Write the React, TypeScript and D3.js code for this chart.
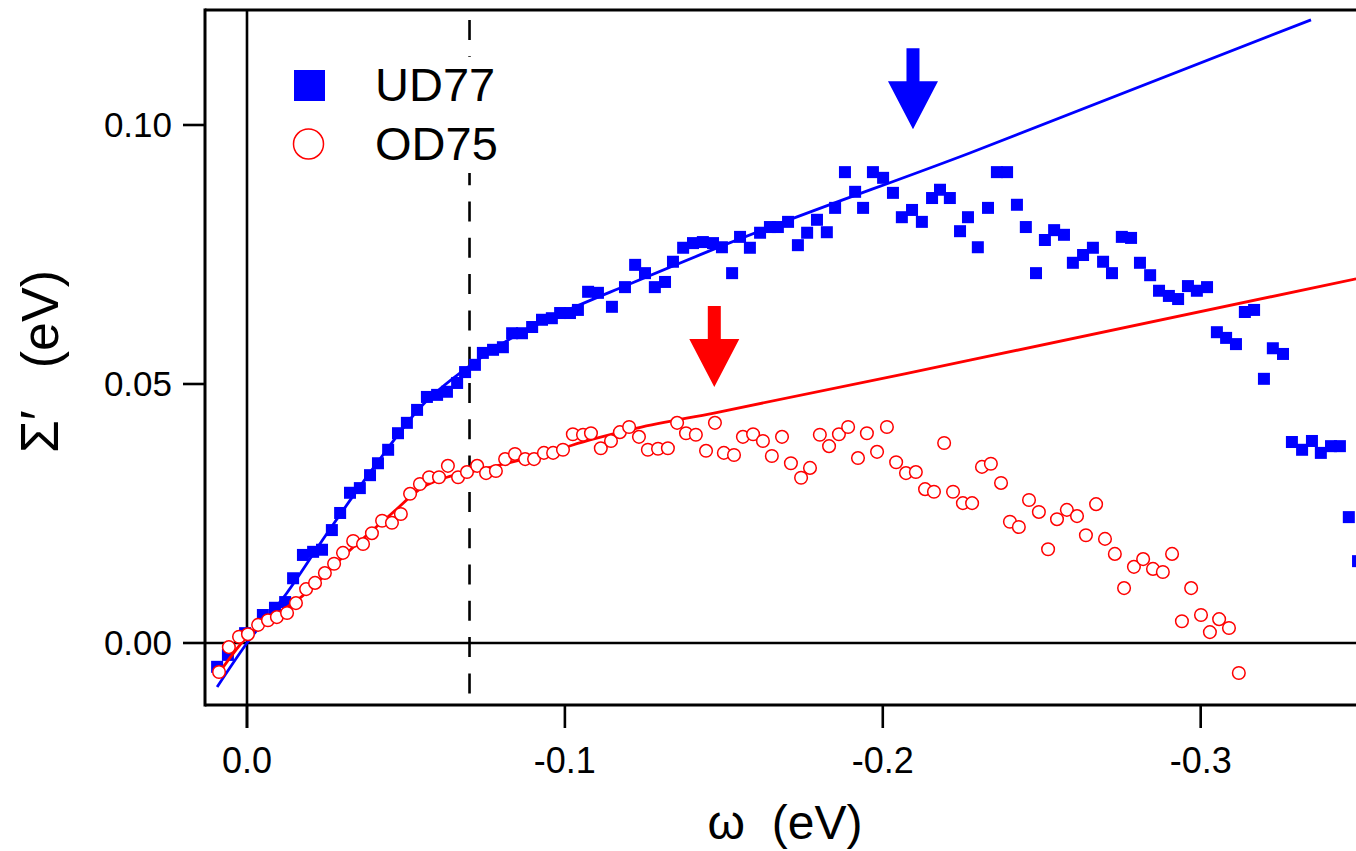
import React from 'react';
import * as d3 from 'd3';

const xTicks = [0, -0.1, -0.2, -0.3];
const yTicks = [0, 0.05, 0.1];

const blueOmega = [0.0094,0.0060,0.0006,-0.0050,-0.0088,-0.0120,-0.0145,-0.0176,-0.0208,-0.0236,-0.0267,-0.0293,-0.0324,-0.0355,-0.0387,-0.0412,-0.0444,-0.0475,-0.0503,-0.0535,-0.0566,-0.0598,-0.0629,-0.0661,-0.0686,-0.0717,-0.0742,-0.0774,-0.0805,-0.0834,-0.0865,-0.0897,-0.0928,-0.0959,-0.0985,-0.1016,-0.1041,-0.1073,-0.1104,-0.1148,-0.1189,-0.1221,-0.1252,-0.1283,-0.1315,-0.1340,-0.1372,-0.1403,-0.1434,-0.1466,-0.1494,-0.1526,-0.1551,-0.1582,-0.1614,-0.1645,-0.1670,-0.1702,-0.1733,-0.1762,-0.1793,-0.1824,-0.1850,-0.1881,-0.1913,-0.1938,-0.1969,-0.2001,-0.2032,-0.2060,-0.2092,-0.2123,-0.2155,-0.2180,-0.2211,-0.2243,-0.2268,-0.2299,-0.2331,-0.2359,-0.2391,-0.2422,-0.2450,-0.2482,-0.2510,-0.2539,-0.2570,-0.2598,-0.2630,-0.2661,-0.2693,-0.2721,-0.2752,-0.2781,-0.2809,-0.2841,-0.2869,-0.2900,-0.2929,-0.2960,-0.2988,-0.3020,-0.3051,-0.3080,-0.3111,-0.3139,-0.3168,-0.3199,-0.3227,-0.3259,-0.3287,-0.3319,-0.3350,-0.3378,-0.3410,-0.3438,-0.3466,-0.3495];
const blueSigma = [-0.0046,-0.0023,0.0019,0.0054,0.0068,0.0079,0.0125,0.0170,0.0176,0.0180,0.0218,0.0251,0.0290,0.0299,0.0324,0.0347,0.0373,0.0405,0.0425,0.0450,0.0475,0.0479,0.0485,0.0502,0.0523,0.0537,0.0560,0.0566,0.0571,0.0598,0.0598,0.0610,0.0624,0.0627,0.0637,0.0637,0.0643,0.0678,0.0676,0.0649,0.0687,0.0730,0.0714,0.0687,0.0697,0.0736,0.0763,0.0772,0.0774,0.0772,0.0764,0.0714,0.0784,0.0763,0.0792,0.0803,0.0803,0.0813,0.0768,0.0792,0.0817,0.0793,0.0840,0.0909,0.0871,0.0840,0.0909,0.0898,0.0869,0.0822,0.0836,0.0813,0.0859,0.0875,0.0859,0.0795,0.0822,0.0764,0.0840,0.0909,0.0909,0.0846,0.0803,0.0714,0.0778,0.0797,0.0788,0.0734,0.0749,0.0763,0.0736,0.0714,0.0784,0.0782,0.0734,0.0710,0.0680,0.0670,0.0664,0.0689,0.0680,0.0687,0.0600,0.0589,0.0577,0.0639,0.0643,0.0510,0.0569,0.0558,0.0388,0.0373,0.0390,0.0367,0.0380,0.0380,0.0243,0.0158];

const redOmega = [0.0088,0.0057,0.0025,-0.0003,-0.0035,-0.0066,-0.0094,-0.0126,-0.0154,-0.0186,-0.0214,-0.0245,-0.0274,-0.0302,-0.0334,-0.0365,-0.0393,-0.0425,-0.0456,-0.0484,-0.0513,-0.0544,-0.0573,-0.0604,-0.0632,-0.0664,-0.0692,-0.0724,-0.0752,-0.0783,-0.0812,-0.0843,-0.0875,-0.0903,-0.0934,-0.0963,-0.0994,-0.1025,-0.1057,-0.1082,-0.1113,-0.1145,-0.1173,-0.1202,-0.1233,-0.1261,-0.1293,-0.1324,-0.1353,-0.1381,-0.1412,-0.1444,-0.1472,-0.1500,-0.1532,-0.1560,-0.1592,-0.1623,-0.1651,-0.1683,-0.1711,-0.1743,-0.1771,-0.1802,-0.1831,-0.1862,-0.1891,-0.1922,-0.1950,-0.1982,-0.2013,-0.2042,-0.2073,-0.2104,-0.2133,-0.2161,-0.2193,-0.2221,-0.2252,-0.2281,-0.2312,-0.2340,-0.2372,-0.2400,-0.2428,-0.2460,-0.2491,-0.2520,-0.2548,-0.2579,-0.2611,-0.2639,-0.2671,-0.2699,-0.2730,-0.2759,-0.2790,-0.2819,-0.2850,-0.2881,-0.2910,-0.2941,-0.2970,-0.3001,-0.3029,-0.3058,-0.3089,-0.3120];
const redSigma = [-0.0056,-0.0008,0.0012,0.0017,0.0035,0.0044,0.0050,0.0058,0.0077,0.0104,0.0116,0.0135,0.0153,0.0174,0.0197,0.0191,0.0212,0.0236,0.0232,0.0249,0.0288,0.0307,0.0320,0.0320,0.0342,0.0320,0.0330,0.0342,0.0328,0.0332,0.0355,0.0365,0.0355,0.0355,0.0367,0.0367,0.0373,0.0403,0.0402,0.0405,0.0376,0.0390,0.0407,0.0417,0.0398,0.0373,0.0375,0.0376,0.0425,0.0405,0.0402,0.0371,0.0425,0.0367,0.0363,0.0398,0.0403,0.0390,0.0361,0.0398,0.0347,0.0319,0.0338,0.0402,0.0380,0.0403,0.0417,0.0357,0.0405,0.0369,0.0417,0.0349,0.0328,0.0330,0.0297,0.0292,0.0386,0.0292,0.0270,0.0270,0.0340,0.0346,0.0309,0.0234,0.0224,0.0276,0.0253,0.0181,0.0239,0.0257,0.0245,0.0208,0.0268,0.0201,0.0172,0.0106,0.0147,0.0162,0.0143,0.0137,0.0172,0.0042,0.0106,0.0054,0.0021,0.0046,0.0029,-0.0058];

const blueFitOmega = [0.0094, 0.0, -0.0126, -0.025, -0.04, -0.055, -0.07, -0.085, -0.10, -0.12, -0.15, -0.2274, -0.3347];
const blueFitSigma = [-0.0085, 0.0, 0.0097, 0.021, 0.034, 0.0458, 0.0535, 0.0595, 0.0640, 0.0692, 0.0768, 0.0946, 0.1203];

const redFitOmega = [0.0079, 0.0, -0.0113, -0.0167, -0.0315, -0.045, -0.0554, -0.0629, -0.0701, -0.0818, -0.0975, -0.1079, -0.1227, -0.1469, -0.2274, -0.3489];
const redFitSigma = [-0.0050, 0.0012, 0.0064, 0.0087, 0.0174, 0.0247, 0.0301, 0.0320, 0.0330, 0.0347, 0.0373, 0.0392, 0.0415, 0.0444, 0.0546, 0.0703];

const dashedOmega = -0.07;
const arrowOmega = [-0.2095, -0.147];
const arrowTipSigma = [0.0992, 0.0494];
const arrowColor = ['#0000ff', '#ff0000'];

const seriesNames = ['UD77', 'OD75'];

const FONT = "Arial, 'Liberation Sans', sans-serif";

export default function App() {
  const W = 1356, H = 851;
  const left = 205, top = 10, bottom = 705, right = 1356;
  const x = d3.scaleLinear().domain([0.01321, -0.34886]).range([left, right]);
  const y = d3.scaleLinear().domain([-0.01197, 0.1222]).range([bottom, top]);

  const line = d3.line<[number, number]>()
    .x(d => x(d[0]))
    .y(d => y(d[1]))
    .curve(d3.curveMonotoneX);

  const bluePts = blueOmega.map((o, i) => [o, blueSigma[i]] as [number, number]).filter(d => d[1] !== undefined);
  const redPts = redOmega.map((o, i) => [o, redSigma[i]] as [number, number]).filter(d => d[1] !== undefined);
  const blueFit = blueFitOmega.map((o, i) => [o, blueFitSigma[i]] as [number, number]);
  const redFit = redFitOmega.map((o, i) => [o, redFitSigma[i]] as [number, number]);

  const sq = 12;
  const cr = 6.3;

  return (
    <svg width={W} height={H} style={{ position: 'absolute', left: 0, top: 0, background: '#fff' }} fontFamily={FONT}>
      <defs>
        <clipPath id="plotClip">
          <rect x={left} y={top} width={right - left + 20} height={bottom - top} />
        </clipPath>
      </defs>
      <rect x={0} y={0} width={W} height={H} fill="#fff" />

      {/* zero lines */}
      <line x1={x(0)} x2={x(0)} y1={top} y2={bottom + 23} stroke="#000" strokeWidth={2.6} />
      <line x1={left} x2={right} y1={y(0)} y2={y(0)} stroke="#000" strokeWidth={2.6} />
      {/* dashed line */}
      <line x1={x(dashedOmega)} x2={x(dashedOmega)} y1={top} y2={bottom} stroke="#000" strokeWidth={2.6}
        strokeDasharray="20 16.3" strokeDashoffset={26.3} />

      {/* legend background */}
      <rect x={280} y={57} width={240} height={116} fill="#fff" />
      <rect x={294} y={70} width={31} height={31} fill="#0000ff" />
      <text x={375} y={101} fontSize={47} fill="#000">{seriesNames[0]}</text>
      <circle cx={308.5} cy={144} r={15} fill="#fff" stroke="#ff0000" strokeWidth={1.5} />
      <text x={375} y={160} fontSize={47} fill="#000">{seriesNames[1]}</text>

      <g clipPath="url(#plotClip)">
        {bluePts.map((d, i) => (
          <rect key={'b' + i} x={x(d[0]) - sq / 2} y={y(d[1]) - sq / 2} width={sq} height={sq} fill="#0000ff" />
        ))}
        <path d={line(blueFit) || ''} fill="none" stroke="#0000ff" strokeWidth={2.8} />
        <path d={line(redFit) || ''} fill="none" stroke="#ff0000" strokeWidth={2.8} />
        {redPts.map((d, i) => (
          <circle key={'r' + i} cx={x(d[0])} cy={y(d[1])} r={cr} fill="#fff" stroke="#ff0000" strokeWidth={1.5} />
        ))}
      </g>

      {/* arrows */}
      {arrowOmega.map((o, i) => {
        const tx = x(o), ty = y(arrowTipSigma[i]);
        const hw = 25, hl = 48, sw = 6.5, sl = 33;
        const pts = [
          [tx - sw, ty - hl - sl], [tx + sw, ty - hl - sl], [tx + sw, ty - hl], [tx + hw, ty - hl],
          [tx, ty], [tx - hw, ty - hl], [tx - sw, ty - hl],
        ].map(p => p.join(',')).join(' ');
        return <polygon key={'a' + i} points={pts} fill={arrowColor[i]} />;
      })}

      {/* frame */}
      <line x1={left} x2={right} y1={top} y2={top} stroke="#000" strokeWidth={3} />
      <line x1={left} x2={left} y1={top - 1.5} y2={bottom + 1.5} stroke="#000" strokeWidth={3} />
      <line x1={left} x2={right} y1={bottom} y2={bottom} stroke="#000" strokeWidth={3} />

      {/* x ticks */}
      {xTicks.map((t, i) => (
        <g key={'xt' + i}>
          <line x1={x(t)} x2={x(t)} y1={bottom} y2={bottom + 23} stroke="#000" strokeWidth={2.6} />
          <text x={x(t)} y={773} fontSize={36} textAnchor="middle" fill="#000">{t.toFixed(1)}</text>
        </g>
      ))}
      {/* y ticks */}
      {yTicks.map((t, i) => (
        <g key={'yt' + i}>
          <line x1={left - 22} x2={left} y1={y(t)} y2={y(t)} stroke="#000" strokeWidth={2.6} />
          <text x={172} y={y(t) + 12.5} fontSize={35} textAnchor="end" fill="#000">{t.toFixed(2)}</text>
        </g>
      ))}

      {/* axis titles */}
      <text x={785} y={839} fontSize={48} textAnchor="middle" fill="#000" style={{ whiteSpace: 'pre' }}>{'ω  (eV)'}</text>
      <text transform="translate(58,453) rotate(-90)" fontSize={53} textAnchor="start" fill="#000">{'Σ′'}</text>
      <text transform="translate(58,270) rotate(-90)" fontSize={52} textAnchor="end" fill="#000">{'(eV)'}</text>
    </svg>
  );
}
